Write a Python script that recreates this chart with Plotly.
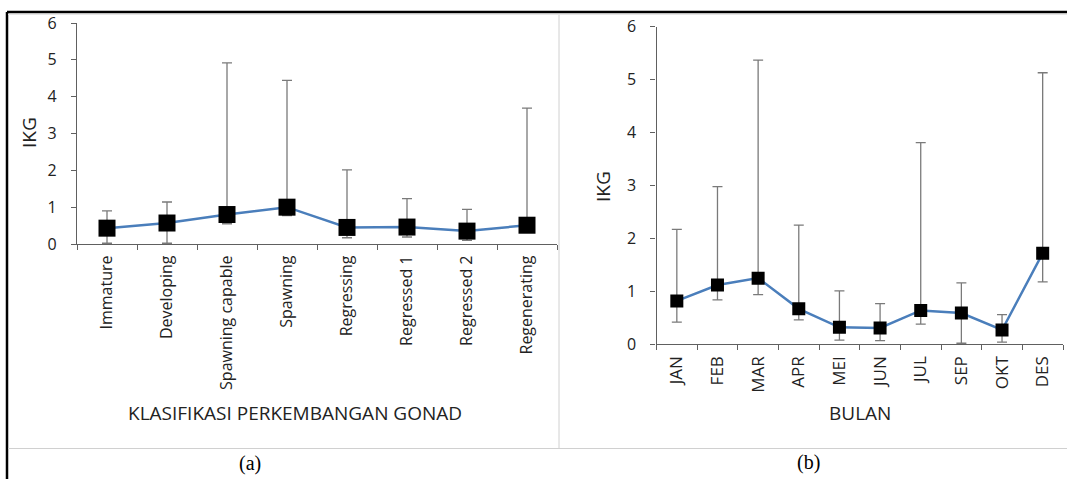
import plotly.graph_objects as go

W, H = 1067, 479

# Panel (a)
stages = ["Immature", "Developing", "Spawning capable", "Spawning",
          "Regressing", "Regressed 1", "Regressed 2", "Regenerating"]
ikg_a = [0.43, 0.57, 0.80, 1.00, 0.45, 0.46, 0.35, 0.51]
upper_a = [0.90, 1.14, 4.92, 4.44, 2.01, 1.23, 0.94, 3.69]
lower_a = [0.02, 0.02, 0.55, 0.77, 0.17, 0.19, 0.10, 0.42]

# Panel (b)
months = ["JAN", "FEB", "MAR", "APR", "MEI", "JUN", "JUL", "SEP", "OKT", "DES"]
ikg_b = [0.82, 1.12, 1.25, 0.67, 0.32, 0.31, 0.64, 0.59, 0.27, 1.72]
upper_b = [2.17, 2.98, 5.37, 2.25, 1.01, 0.77, 3.81, 1.16, 0.56, 5.13]
lower_b = [0.42, 0.84, 0.94, 0.46, 0.08, 0.07, 0.38, 0.02, 0.04, 1.18]

yticks = [0, 1, 2, 3, 4, 5, 6]

LINE = "#4A7EBB"
ERR = "#7a7a7a"
FONT = "Open Sans"
TXT = "#222222"

def px_x(p):
    return p / W

def px_y(p):
    return 1 - p / H

fig = go.Figure()

fig.add_trace(go.Scatter(
    x=stages, y=ikg_a, mode="lines+markers",
    line=dict(color=LINE, width=2.5),
    marker=dict(symbol="square", size=17, color="black"),
    error_y=dict(type="data", symmetric=False,
                 array=[u - v for u, v in zip(upper_a, ikg_a)],
                 arrayminus=[v - l for v, l in zip(ikg_a, lower_a)],
                 color=ERR, thickness=1.3, width=5),
    xaxis="x", yaxis="y", showlegend=False))

fig.add_trace(go.Scatter(
    x=months, y=ikg_b, mode="lines+markers",
    line=dict(color=LINE, width=2.5),
    marker=dict(symbol="square", size=13, color="black"),
    error_y=dict(type="data", symmetric=False,
                 array=[u - v for u, v in zip(upper_b, ikg_b)],
                 arrayminus=[v - l for v, l in zip(ikg_b, lower_b)],
                 color=ERR, thickness=1.3, width=5),
    xaxis="x2", yaxis="y2", showlegend=False))

axis_common = dict(showgrid=False, zeroline=False, showline=True,
                   linecolor="#606060", linewidth=1.2, ticks="outside",
                   tickcolor="#606060", ticklen=5, automargin=False)

xa = dict(type="category", categoryorder="array", tickson="boundaries",
          tickangle=-90, ticklabelstandoff=4, **axis_common)
ya = dict(range=[0, 6], tickvals=yticks, ticklabelstandoff=11,
          tickfont=dict(family=FONT, size=16, color=TXT), **axis_common)

fig.update_layout(
    width=W, height=H,
    margin=dict(l=0, r=0, t=0, b=0, autoexpand=False),
    paper_bgcolor="white", plot_bgcolor="white",
    xaxis=dict(domain=[px_x(77), px_x(557)], anchor="y",
               categoryarray=stages, range=[-0.5, 7.5],
               tickfont=dict(family=FONT, size=16, color=TXT), **xa),
    yaxis=dict(domain=[px_y(244), px_y(23)], anchor="x", **ya),
    xaxis2=dict(domain=[px_x(656.5), px_x(1063)], anchor="y2",
                categoryarray=months, range=[-0.5, 9.5],
                tickfont=dict(family=FONT, size=17, color=TXT), **xa),
    yaxis2=dict(domain=[px_y(344.3), px_y(26.7)], anchor="x2", **ya),
)

annots = [
    dict(text="IKG", x=px_x(29), y=px_y(133), textangle=-90,
         font=dict(family=FONT, size=19, color=TXT)),
    dict(text="IKG", x=px_x(603), y=px_y(187), textangle=-90,
         font=dict(family=FONT, size=19, color=TXT)),
    dict(text="KLASIFIKASI PERKEMBANGAN GONAD", x=px_x(295), y=px_y(413),
         font=dict(family=FONT, size=19, color=TXT)),
    dict(text="BULAN", x=px_x(860), y=px_y(413),
         font=dict(family=FONT, size=19, color=TXT)),
    dict(text="(a)", x=px_x(250), y=px_y(463),
         font=dict(family="Liberation Serif", size=20, color="black")),
    dict(text="(b)", x=px_x(808), y=px_y(462),
         font=dict(family="Liberation Serif", size=20, color="black")),
]
for a in annots:
    a.update(xref="paper", yref="paper", showarrow=False,
             xanchor="center", yanchor="middle")
    fig.add_annotation(**a)

shapes = [
    # black outer frame: top and left
    dict(type="line", x0=px_x(7), x1=1, y0=px_y(12), y1=px_y(12),
         line=dict(color="black", width=2.5)),
    dict(type="line", x0=px_x(7), x1=px_x(7), y0=px_y(12), y1=0,
         line=dict(color="black", width=2.5)),
    # gray separators
    dict(type="line", x0=px_x(8), x1=1, y0=px_y(448.5), y1=px_y(448.5),
         line=dict(color="#d0d0d0", width=1)),
    dict(type="line", x0=px_x(559), x1=px_x(559), y0=px_y(14), y1=px_y(448.5),
         line=dict(color="#d0d0d0", width=1)),
    dict(type="line", x0=px_x(8), x1=1, y0=px_y(14.5), y1=px_y(14.5),
         line=dict(color="#e6e6e6", width=1)),
]
for s in shapes:
    s.update(xref="paper", yref="paper")
    fig.add_shape(**s)

fig.write_html("out.html",
               config={"displayModeBar": False},
               post_script="document.body.style.margin='0';"
                           "document.body.style.overflow='hidden';")
